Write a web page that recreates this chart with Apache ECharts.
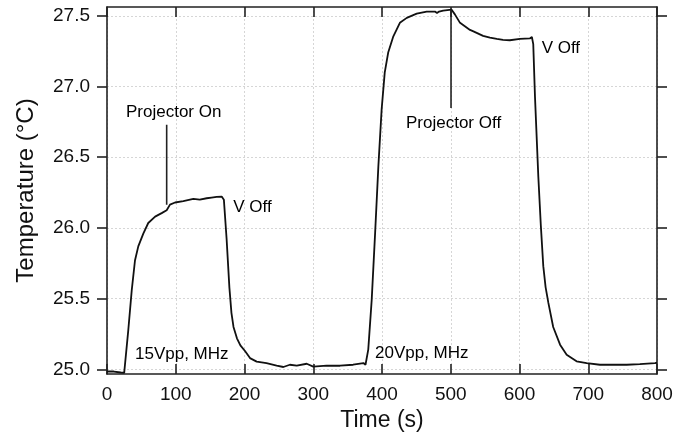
<!DOCTYPE html>
<html>
<head>
<meta charset="utf-8">
<script src="https://cdn.jsdelivr.net/npm/echarts@6/dist/echarts.min.js"></script>
<style>html,body{margin:0;padding:0;background:#fff}#c{width:676px;height:432px}</style>
</head>
<body>
<div id="c"></div>
<script>
// Time (s)
var timeS = [0,10,20,25,27,31,36,40.7,45.5,52.8,60,70,79.5,86.8,91.6,99,111,125.6,135,145,152,159.5,166.8,170,174,178,181,184,189,194,200.7,208,217.7,232,246.8,256.5,266,276,290.5,300,319.5,339,358,373,376,378,380,385,390,394.7,399.5,404,409,416.5,426,436,450.5,465,477,480,483,489,501,506,513.5,528,533,547,557,567,576,586,600.7,615,618,620,622.5,627.4,631,634.6,638,642,649,659,668.6,683,697.7,717,736,756,775,797,800];
// Temperature (°C)
var tempC = [24.985,24.985,24.978,24.976,24.99,25.28,25.56,25.77,25.87,25.96,26.035,26.08,26.105,26.125,26.165,26.18,26.19,26.205,26.2,26.21,26.215,26.22,26.222,26.2,25.92,25.58,25.40,25.30,25.22,25.17,25.13,25.08,25.055,25.045,25.026,25.017,25.033,25.026,25.04,25.02,25.026,25.026,25.033,25.045,25.033,25.035,25.14,25.49,25.965,26.435,26.84,27.10,27.24,27.355,27.45,27.485,27.515,27.53,27.53,27.52,27.53,27.537,27.544,27.51,27.45,27.40,27.39,27.358,27.345,27.337,27.33,27.327,27.337,27.34,27.35,27.30,26.93,26.36,26.02,25.73,25.58,25.47,25.30,25.175,25.104,25.057,25.045,25.033,25.033,25.033,25.038,25.045,25.047];

var xTicks = [0,100,200,300,400,500,600,700,800];
var yTicks = [25.0,25.5,26.0,26.5,27.0,27.5];

// annotation texts and anchor (left edge, vertical middle) in data units
var annTexts = ["Projector On","V Off","Projector Off","V Off","15Vpp, MHz","20Vpp, MHz"];
var annTime  = [27.6,183.7,434.9,632.2,40.7,389.8];
var annTemp  = [26.82,26.146,26.742,27.272,25.104,25.116];

// pointer lines [time, tempTop, tempBottom]
var ptrTime = [86.8,500.4];
var ptrTop  = [26.73,27.544];
var ptrBot  = [26.164,26.848];

var FONT = "'Liberation Sans', Arial, Helvetica, sans-serif";
var chart = echarts.init(document.getElementById('c'));

var series = [{
  type:'line', xAxisIndex:0, yAxisIndex:0,
  data: timeS.map(function(t,i){return [t,tempC[i]];}),
  showSymbol:false, symbol:'none', smooth:false,
  lineStyle:{color:'#111',width:1.8}, silent:true, z:3
},{
  type:'scatter', xAxisIndex:0, yAxisIndex:0,
  data: annTexts.map(function(s,i){return {value:[annTime[i],annTemp[i]],name:s};}),
  symbolSize:0, silent:true, itemStyle:{opacity:1},
  label:{show:true,position:'right',distance:0,formatter:function(p){return p.name;},
    color:'#000',opacity:1,fontSize:17,fontFamily:FONT}
}];
ptrTime.forEach(function(t,i){
  series.push({type:'line', xAxisIndex:0, yAxisIndex:0,
    data:[[t,ptrTop[i]],[t,ptrBot[i]]], symbol:'none', silent:true,
    lineStyle:{color:'#222',width:1.6}});
});

chart.setOption({
  animation:false,
  backgroundColor:'#fff',
  grid:{left:107,right:19,top:7,bottom:58,containLabel:false,outerBoundsMode:'none'},
  xAxis:[{
    type:'value', min:0, max:800, interval:100, position:'bottom',
    name:'Time (s)', nameLocation:'middle', nameGap:31,
    nameTextStyle:{fontSize:23,color:'#111',fontFamily:FONT},
    axisLine:{show:true,onZero:false,lineStyle:{color:'#222',width:1.6}},
    axisTick:{show:true,inside:true,length:10,lineStyle:{color:'#222',width:1.6}},
    axisLabel:{show:true,margin:11,fontSize:19,color:'#111',fontFamily:FONT,
      customValues:xTicks},
    splitLine:{show:true,lineStyle:{color:'#d6d6d6',type:[2,2],width:1}}
  },{
    type:'value', min:0, max:800, interval:100, position:'top',
    axisLine:{show:true,onZero:false,lineStyle:{color:'#222',width:1.6}},
    axisTick:{show:true,inside:true,length:10,lineStyle:{color:'#222',width:1.6}},
    axisLabel:{show:false}, splitLine:{show:false}
  }],
  yAxis:[{
    type:'value', min:24.9675, max:27.562, position:'left',
    name:'Temperature (°C)', nameLocation:'middle', nameGap:69, nameRotate:90,
    nameTextStyle:{fontSize:24,color:'#111',fontFamily:FONT},
    axisLine:{show:true,onZero:false,lineStyle:{color:'#222',width:1.6}},
    axisTick:{show:true,inside:false,length:10,customValues:yTicks,lineStyle:{color:'#222',width:1.6}},
    axisLabel:{show:true,margin:17,fontSize:19,color:'#111',fontFamily:FONT,
      customValues:yTicks, formatter:function(v){return v.toFixed(1);}},
    splitLine:{show:true,lineStyle:{color:'#d6d6d6',type:[2,2],width:1}}
  },{
    type:'value', min:24.9675, max:27.562, position:'right',
    axisLine:{show:true,onZero:false,lineStyle:{color:'#222',width:1.6}},
    axisTick:{show:true,inside:false,length:10,customValues:yTicks,lineStyle:{color:'#222',width:1.6}},
    axisLabel:{show:false}, splitLine:{show:false}
  }],
  series:series
});
</script>
</body>
</html>
